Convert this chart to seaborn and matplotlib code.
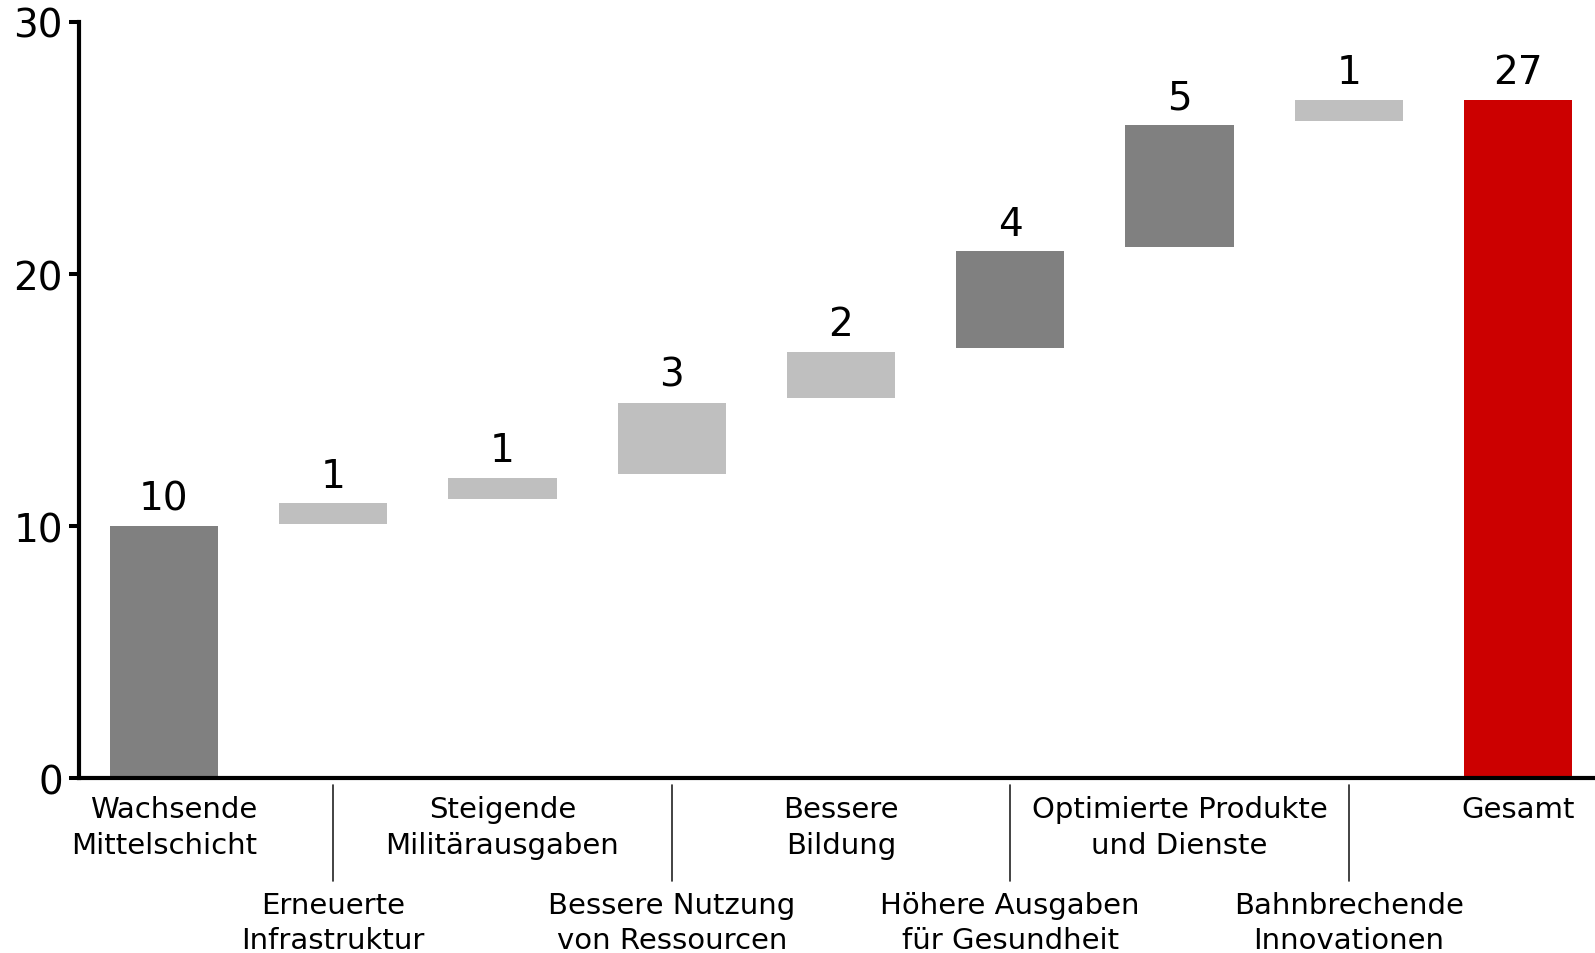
import numpy as np
import pandas as pd
import seaborn as sns
import matplotlib.pyplot as plt

# Waterfall data
categories = ["Wachsende\nMittelschicht", "Erneuerte\nInfrastruktur",
              "Steigende\nMilitärausgaben", "Bessere Nutzung\nvon Ressourcen",
              "Bessere\nBildung", "Höhere Ausgaben\nfür Gesundheit",
              "Optimierte Produkte\nund Dienste", "Bahnbrechende\nInnovationen",
              "Gesamt"]
steps = [10, 1, 1, 3, 2, 4, 5, 1]
total = 27
value_labels = steps + [total]
bar_colors = ["#808080", "#bfbfbf", "#bfbfbf", "#bfbfbf", "#bfbfbf",
              "#808080", "#808080", "#bfbfbf", "#cc0000"]
yticks = [0, 10, 20, 30]

# small visual gaps between floating bars
GAP_LOW = 0.08
GAP_HIGH = 0.1

cum = np.cumsum(steps)
bottoms = np.array([0] + list(cum[:-1] + GAP_LOW) + [0], dtype=float)
tops = np.array([cum[0]] + list(cum[1:] - GAP_HIGH) + [total - GAP_HIGH], dtype=float)

df = pd.DataFrame({"cat": categories, "height": tops - bottoms, "bottom": bottoms})

sns.set_style("white")
plt.rcParams["font.family"] = ["DejaVu Sans"]
plt.rcParams["text.color"] = "black"
plt.rcParams["ytick.labelcolor"] = "black"

fig = plt.figure(figsize=(15.95, 9.54), dpi=100)
ax = fig.add_axes([0.0495, 0.1834, 0.9505, 0.7925])

sns.barplot(data=df, x="cat", y="height", bottom=df["bottom"].to_numpy(),
            color="#808080", width=0.64, errorbar=None, ax=ax, linewidth=0)
for patch, c in zip(ax.patches, bar_colors):
    patch.set_facecolor(c)
    patch.set_edgecolor("none")

# value labels above bars
for i, (v, t) in enumerate(zip(value_labels, tops)):
    ax.annotate(str(v), xy=(i, t), xytext=(0, 12), textcoords="offset points",
                ha="center", va="baseline", fontsize=28, color="black")

# category labels in two staggered rows
xt = ax.get_xaxis_transform()
for i, lab in enumerate(categories):
    off = -12.5 if i % 2 == 0 else -81.5
    ax.annotate(lab, xy=(i, 0), xycoords=xt, xytext=(0, off),
                textcoords="offset points", ha="center", va="top",
                fontsize=21, linespacing=1.33, color="black",
                multialignment="right" if i == 0 else "center")
    if i % 2 == 1:
        ax.plot([i, i], [-0.0093, -0.136], transform=xt, color="#222222",
                lw=1.2, clip_on=False)

ax.set_xlim(-0.502, 8.455)
ax.set_ylim(0, 30)
ax.set_yticks(yticks)
ax.set_xticks([])
ax.set_xlabel("")
ax.set_ylabel("")
ax.tick_params(axis="y", length=7.2, width=2.9, labelsize=28, pad=4.3,
               color="black", labelcolor="black", left=True)
sns.despine(ax=ax)
for s in ["left", "bottom"]:
    ax.spines[s].set_linewidth(3)
    ax.spines[s].set_color("black")

fig.savefig("out.png", dpi=100)
